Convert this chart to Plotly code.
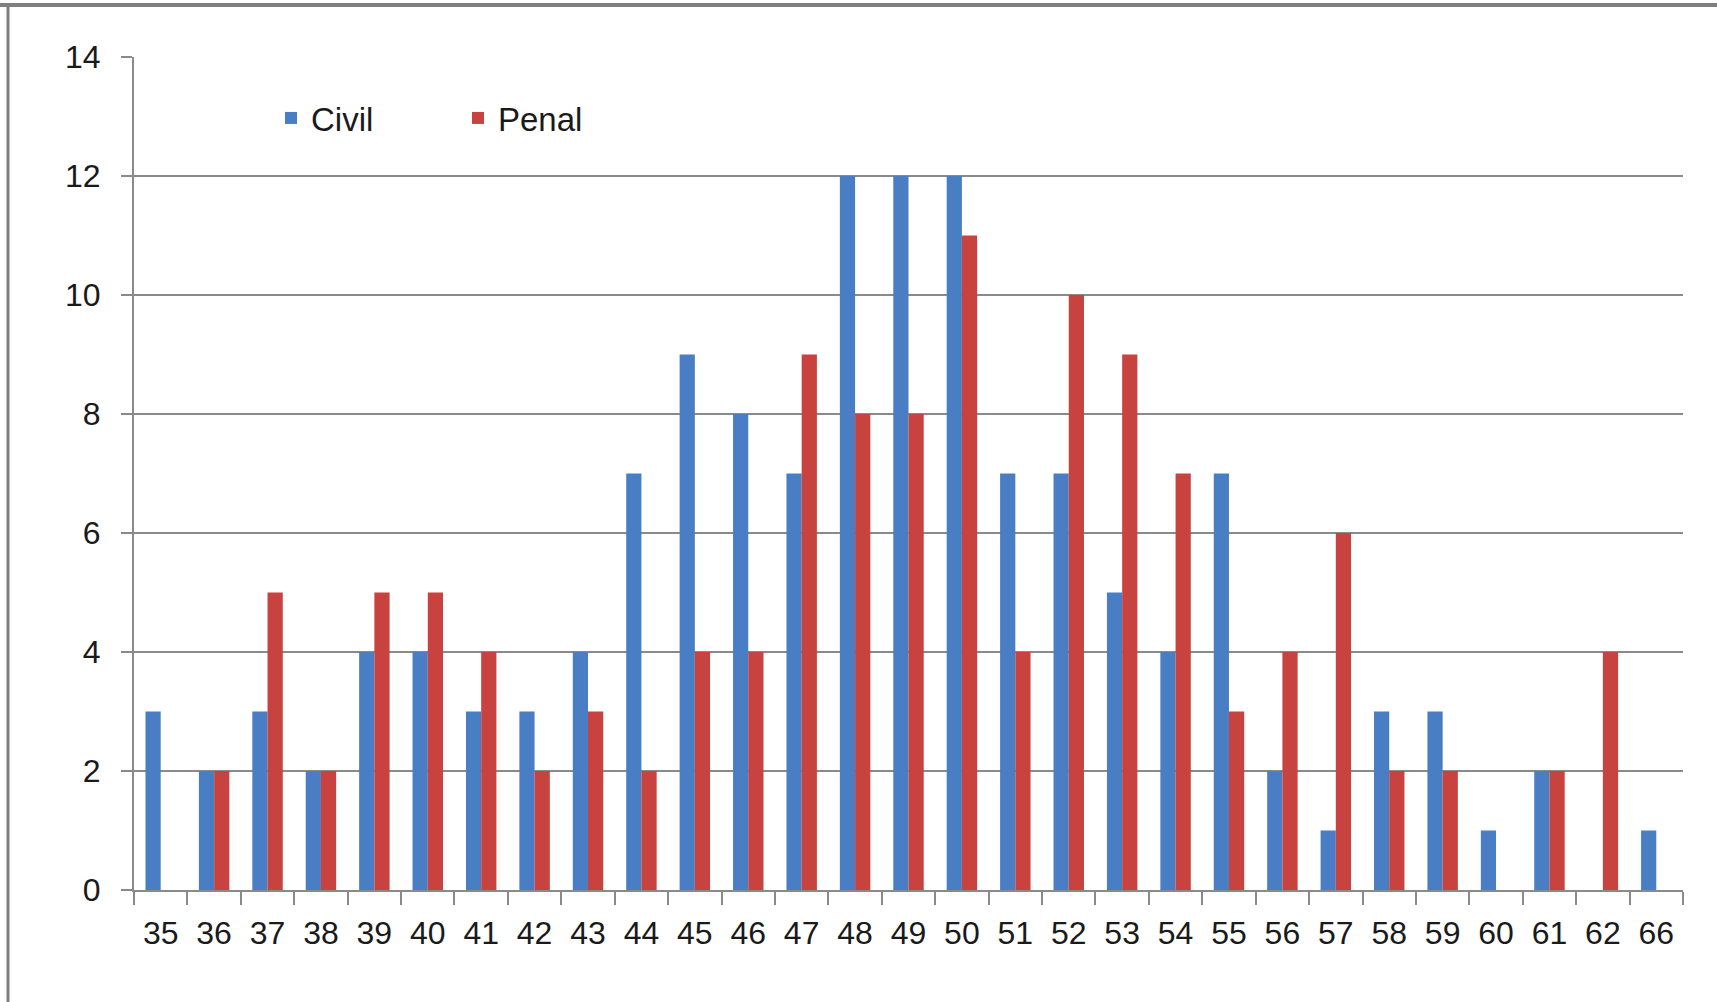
import plotly.graph_objects as go

categories = ["35", "36", "37", "38", "39", "40", "41", "42", "43", "44", "45", "46", "47", "48",
              "49", "50", "51", "52", "53", "54", "55", "56", "57", "58", "59", "60", "61", "62", "66"]
civil = [3, 2, 3, 2, 4, 4, 3, 3, 4, 7, 9, 8, 7, 12, 12, 12, 7, 7, 5, 4, 7, 2, 1, 3, 3, 1, 2, 0, 1]
penal = [0, 2, 5, 2, 5, 5, 4, 2, 3, 2, 4, 4, 9, 8, 8, 11, 4, 10, 9, 7, 3, 4, 6, 2, 2, 0, 2, 4, 0]
y_ticks = [0, 2, 4, 6, 8, 10, 12, 14]

W, H = 1717, 1002
L, R, T, B = 134, 1683, 57, 890

FONT = "Liberation Sans, Arial, sans-serif"
TXT = "#1a1a1a"
GRID = "#8a8a8a"

fig = go.Figure()
fig.add_trace(go.Bar(name="Civil", x=categories, y=civil, marker=dict(color="#4A7EC4", line=dict(width=0))))
fig.add_trace(go.Bar(name="Penal", x=categories, y=penal, marker=dict(color="#C8423F", line=dict(width=0))))

def px_x(p):
    return (p - L) / (R - L)

def px_y(p):
    return (B - p) / (B - T)

shapes = [
    dict(type="line", xref="paper", yref="paper", x0=px_x(0), x1=px_x(W), y0=px_y(5), y1=px_y(5),
         line=dict(color="#7f7f7f", width=4)),
    dict(type="line", xref="paper", yref="paper", x0=px_x(8), x1=px_x(8), y0=px_y(4), y1=px_y(H),
         line=dict(color="#7f7f7f", width=3)),
]

fig.update_layout(
    width=W, height=H,
    margin=dict(l=L, r=W - R, t=T, b=H - B, autoexpand=False),
    paper_bgcolor="white", plot_bgcolor="white",
    barmode="group", bargap=0.43, bargroupgap=0,
    font=dict(family=FONT, size=32, color=TXT),
    showlegend=True,
    legend=dict(orientation="h", x=px_x(271), y=px_y(118), xanchor="left", yanchor="middle",
                entrywidth=142, entrywidthmode="pixels", itemwidth=30,
                font=dict(family=FONT, size=33, color=TXT), bgcolor="rgba(0,0,0,0)"),
    shapes=shapes,
)
fig.update_xaxes(type="category", showline=True, linecolor=GRID, linewidth=2,
                 ticks="outside", tickson="boundaries", ticklen=13, tickwidth=2, tickcolor=GRID,
                 ticklabelstandoff=14,
                 showgrid=False, tickfont=dict(family=FONT, size=32, color=TXT))
fig.update_yaxes(range=[0, 14], tickvals=y_ticks, showline=True, linecolor=GRID, linewidth=2,
                 ticks="outside", ticklen=11, tickwidth=2, tickcolor=GRID,
                 ticklabelstandoff=14,
                 showgrid=True, gridcolor=GRID, gridwidth=2, zeroline=False,
                 tickfont=dict(family=FONT, size=32, color=TXT))

fig.write_html("out.html", config={"displayModeBar": False},
               post_script="document.body.style.margin='0';")
